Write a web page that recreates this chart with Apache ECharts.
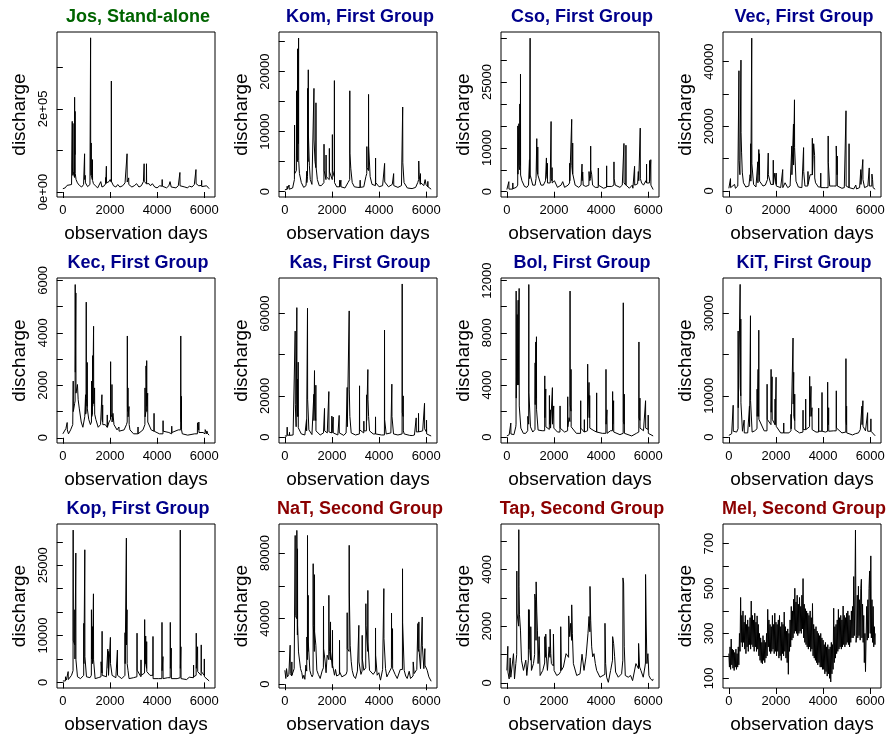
<!DOCTYPE html>
<html>
<head>
<meta charset="utf-8">
<title>discharge</title>
<script src="https://cdn.jsdelivr.net/npm/echarts@6/dist/echarts.min.js"></script>
<style>
  html, body { margin: 0; padding: 0; background: #fff; }
  #main { width: 891px; height: 735px; }
</style>
</head>
<body>
<div id="main"></div>
<script>
// daily discharge as [day, value] points
var jos = [[1,8000],[100,10000],[180,16000],[250,12000],[370,18000],[392,22000],[398,170000],[403,60000],[425,40000],[430,165000],[436,50000],[495,35000],[500,228000],[505,110000],[515,90000],[520,194000],[526,45000],[560,30000],[620,22000],[700,16000],[800,12000],[880,18000],[918,22000],[923,92000],[928,30000],[945,28000],[950,40000],[960,22000],[1050,13000],[1150,18000],[1173,22000],[1178,371000],[1183,60000],[1200,40000],[1205,118000],[1210,40000],[1250,30000],[1255,78000],[1262,28000],[1300,20000],[1380,15000],[1480,10000],[1560,14000],[1610,25000],[1660,12000],[1760,15000],[1815,20000],[1820,35000],[1825,20000],[1842,22000],[1847,62000],[1852,22000],[1960,25000],[2010,30000],[2054,24000],[2059,267000],[2064,25000],[2150,15000],[2250,12000],[2330,18000],[2420,12000],[2540,15000],[2640,22000],[2721,22000],[2726,92000],[2732,24000],[2790,20000],[2795,34000],[2800,18000],[2930,12000],[3030,15000],[3130,20000],[3230,12000],[3330,15000],[3420,25000],[3445,24000],[3450,68000],[3456,25000],[3545,20000],[3550,68000],[3556,20000],[3660,20000],[3720,15000],[3800,20000],[3900,12000],[4000,10000],[4110,15000],[4212,14000],[4217,30000],[4222,14000],[4400,10000],[4500,15000],[4550,25000],[4600,12000],[4800,10000],[4900,15000],[4964,14000],[4969,47000],[4975,15000],[5180,12000],[5280,10000],[5380,14000],[5480,12000],[5580,18000],[5645,17000],[5650,54000],[5656,20000],[5770,15000],[5850,16000],[5886,16000],[5891,28000],[5896,13000],[5960,12000],[6100,15000],[6210,8000]];
var kom = [[1,300],[60,500],[95,400],[100,900],[105,400],[175,400],[180,1100],[186,400],[330,600],[406,2000],[412,11100],[417,3000],[490,3500],[497,16800],[502,6000],[535,5000],[540,23800],[545,9000],[578,8000],[583,25600],[588,5200],[620,3000],[700,1500],[800,700],[900,1000],[925,1200],[930,3400],[935,1500],[961,2500],[966,17200],[971,6000],[990,5000],[995,20300],[1000,9600],[1040,4400],[1080,2000],[1150,1200],[1231,1500],[1236,17200],[1241,8600],[1280,5000],[1316,4000],[1321,14800],[1326,4100],[1380,2000],[1460,1000],[1550,1000],[1658,1500],[1663,7900],[1668,3500],[1745,2000],[1750,6100],[1755,2500],[1885,2000],[1890,7200],[1895,3300],[2013,2000],[2018,9500],[2023,3500],[2098,2500],[2103,18500],[2108,1500],[2200,800],[2325,800],[2330,1900],[2335,800],[2375,800],[2380,1900],[2385,800],[2550,600],[2680,1500],[2752,2000],[2757,16800],[2762,6400],[2800,3800],[2860,1500],[2950,800],[3100,700],[3192,700],[3197,1900],[3202,700],[3350,800],[3440,2500],[3476,3000],[3481,7500],[3486,4000],[3548,3500],[3553,16200],[3558,7500],[3620,2500],[3700,1200],[3846,1000],[3851,5600],[3856,1500],[4000,800],[4150,1000],[4230,1000],[4235,4700],[4240,1600],[4400,800],[4560,1200],[4613,1200],[4618,3000],[4623,1000],[4800,700],[4950,1000],[4997,1200],[5002,14100],[5007,4800],[5060,1500],[5200,600],[5400,500],[5550,700],[5640,1500],[5679,2000],[5684,5100],[5700,2800],[5750,1200],[5755,3000],[5760,1500],[5900,1000],[5949,1000],[5954,2000],[5990,1200],[6065,800],[6070,1700],[6075,800],[6210,400]];
var cso = [[1,500],[80,500],[85,2300],[90,600],[249,600],[254,2000],[260,700],[400,1000],[461,1500],[466,15000],[471,4000],[505,4000],[510,15500],[515,6000],[546,5000],[551,20000],[556,8000],[574,6000],[579,26800],[584,3800],[640,2500],[750,1200],[850,1000],[920,1500],[955,1500],[960,7300],[965,3000],[983,3000],[988,35000],[993,3800],[1100,1500],[1200,1500],[1240,3000],[1266,3000],[1271,12100],[1276,5000],[1308,4000],[1313,10200],[1318,3800],[1450,1500],[1550,1500],[1640,2500],[1675,2500],[1680,7700],[1685,4000],[1715,3000],[1720,6500],[1725,2000],[1840,2000],[1873,2000],[1878,16000],[1883,3000],[1915,2500],[1920,5500],[1925,2000],[2020,2500],[2150,1000],[2300,1500],[2372,2300],[2450,1000],[2600,1500],[2663,2000],[2668,6500],[2673,2500],[2748,2500],[2753,16500],[2758,6000],[2790,4000],[2795,11100],[2800,4000],[2900,1500],[3050,1000],[3150,1500],[3186,1500],[3191,6300],[3196,2500],[3220,4500],[3240,1500],[3350,1200],[3483,1500],[3488,4600],[3520,2500],[3553,3000],[3558,10400],[3563,5000],[3600,4000],[3640,1500],[3750,1000],[3878,1000],[3883,5400],[3888,1500],[4100,800],[4231,1000],[4236,5900],[4241,1200],[4450,1200],[4542,1500],[4547,6800],[4552,3000],[4600,1500],[4800,1000],[4900,1500],[4965,1500],[4970,11000],[4975,2000],[5050,1500],[5055,10600],[5060,1500],[5200,800],[5323,1500],[5350,800],[5417,900],[5422,5800],[5427,1500],[5550,1800],[5575,2000],[5580,4600],[5600,2500],[5657,2500],[5662,14500],[5667,3000],[5720,2000],[5800,1500],[5900,2500],[5925,2000],[5930,6300],[5935,2000],[6052,2000],[6057,7100],[6062,2500],[6105,2500],[6110,7300],[6115,1500],[6210,500]];
var vec = [[1,800],[65,800],[70,3800],[75,1000],[243,2000],[280,800],[380,1500],[424,2000],[429,37200],[434,9400],[470,5000],[509,5000],[514,40500],[519,18000],[540,12000],[570,5800],[620,2500],[720,1200],[850,1500],[895,1500],[900,5000],[924,4000],[929,14600],[934,3000],[967,3000],[972,47300],[977,8400],[1050,2000],[1150,1200],[1224,1500],[1229,9000],[1234,2500],[1267,2500],[1272,12800],[1295,5000],[1300,11500],[1305,3000],[1450,1500],[1550,1800],[1640,3500],[1667,3500],[1672,11700],[1677,5000],[1780,2000],[1881,2000],[1886,9500],[1891,2000],[1945,2000],[1950,5500],[2005,2000],[2010,5500],[2015,1500],[2200,1000],[2281,1000],[2286,6600],[2291,1000],[2386,2500],[2500,1000],[2600,1500],[2667,2000],[2672,13900],[2677,5000],[2738,5000],[2743,20700],[2748,8000],[2781,8000],[2786,28200],[2791,13400],[2850,3000],[2950,1200],[3100,1000],[3167,1500],[3172,13400],[3177,6000],[3230,1500],[3353,1500],[3358,6000],[3363,2000],[3450,5000],[3539,5000],[3544,16300],[3549,5000],[3596,5000],[3601,14600],[3640,11000],[3645,4000],[3680,2500],[3800,1200],[3896,1200],[3901,5500],[3906,1000],[4100,1000],[4211,1000],[4216,17000],[4221,8800],[4280,1500],[4450,1500],[4553,1500],[4558,13900],[4595,5000],[4600,10800],[4605,1500],[4800,800],[4900,1000],[4968,1000],[4973,24800],[4978,1500],[5097,1000],[5102,14600],[5107,1000],[5300,600],[5387,1800],[5420,600],[5550,1000],[5596,1000],[5601,6600],[5606,2000],[5682,2000],[5687,9700],[5692,3500],[5760,1000],[5900,1500],[5954,1500],[5959,7100],[5964,1500],[6068,1500],[6073,5200],[6100,3500],[6120,1000],[6210,500]];
var kec = [[1,150],[70,220],[130,350],[179,300],[184,580],[190,300],[240,150],[330,300],[420,500],[435,500],[440,2160],[445,1000],[500,1300],[520,1400],[525,5840],[530,2500],[548,2500],[553,5520],[558,1700],[620,2030],[650,1450],[700,1100],[780,600],[850,400],[930,800],[959,800],[964,1640],[969,900],[988,1000],[993,5170],[998,1500],[1030,1200],[1035,2870],[1040,1100],[1063,1060],[1100,700],[1170,500],[1214,600],[1219,2160],[1224,800],[1257,900],[1262,3130],[1267,1200],[1300,1200],[1305,4250],[1310,1300],[1347,1900],[1352,900],[1400,700],[1500,400],[1600,500],[1654,500],[1659,1640],[1664,700],[1685,600],[1690,1250],[1695,500],[1800,500],[1881,400],[1886,870],[1891,400],[1960,600],[2023,700],[2028,2900],[2033,900],[2080,800],[2085,2030],[2090,600],[2127,930],[2170,500],[2300,300],[2377,250],[2382,410],[2387,250],[2600,300],[2700,500],[2732,600],[2737,3880],[2742,1200],[2760,1000],[2765,1900],[2770,800],[2808,1190],[2815,500],[2850,300],[3000,150],[3186,150],[3191,410],[3196,150],[3400,300],[3483,500],[3488,1900],[3493,800],[3525,1000],[3530,2740],[3554,1200],[3559,2940],[3564,1000],[3600,1700],[3605,600],[3750,300],[3866,250],[3871,930],[3876,250],[4100,150],[4249,150],[4254,650],[4259,250],[4500,200],[4618,150],[4623,440],[4628,200],[4900,300],[5000,300],[5005,3880],[5010,800],[5028,600],[5033,1580],[5038,300],[5070,150],[5300,100],[5600,150],[5710,150],[5715,570],[5767,300],[5772,600],[5777,200],[5830,180],[5950,200],[6036,150],[6041,310],[6107,150],[6112,260],[6150,150],[6210,100]];
var kas = [[1,500],[94,500],[99,4800],[104,1000],[193,800],[198,2300],[203,800],[350,1000],[434,1500],[439,51500],[444,15900],[480,5000],[504,5000],[509,62900],[514,20000],[533,10000],[538,28200],[543,12000],[561,10000],[566,36400],[571,4500],[700,1500],[850,1000],[915,1000],[920,8500],[925,3000],[957,3000],[962,62600],[967,18400],[1020,3500],[1150,1200],[1226,1500],[1231,20800],[1236,8000],[1254,8000],[1259,32300],[1264,15000],[1311,8000],[1316,25200],[1321,3000],[1500,1000],[1640,2000],[1679,2000],[1684,13900],[1689,3000],[1800,2000],[1863,2000],[1868,22100],[1873,2500],[1990,2000],[1995,10200],[2000,2000],[2047,2000],[2052,9700],[2057,2000],[2250,1000],[2301,1000],[2306,10500],[2311,2000],[2500,800],[2600,2000],[2641,2000],[2646,24100],[2651,5000],[2726,5000],[2731,61300],[2736,22900],[2760,10000],[2816,2000],[3000,1000],[3165,1500],[3170,24900],[3175,3500],[3349,2000],[3354,7700],[3359,3000],[3462,3000],[3467,20500],[3472,8000],[3519,8000],[3524,32800],[3529,18400],[3555,10000],[3595,3000],[3750,1500],[3844,1500],[3849,9800],[3854,1500],[4100,1000],[4226,1000],[4231,52000],[4236,8500],[4301,1500],[4500,2000],[4537,2000],[4542,25700],[4547,10000],[4613,1500],[4800,1000],[4976,1500],[4981,74400],[4986,12000],[5019,10000],[5024,20000],[5029,3000],[5066,1500],[5300,800],[5405,700],[5500,1000],[5570,1500],[5575,9300],[5580,2500],[5669,2500],[5674,11500],[5679,2500],[5850,3000],[5924,3000],[5929,16400],[5934,4000],[6009,2500],[6014,8200],[6019,1500],[6210,500]];
var bol = [[1,100],[100,200],[164,200],[169,1090],[174,250],[300,200],[380,800],[390,1000],[395,11200],[400,3000],[433,3000],[438,9400],[443,4000],[475,4000],[480,10500],[485,4000],[517,4000],[522,11400],[527,2400],[594,700],[700,300],[800,300],[885,500],[890,1600],[927,1000],[932,11700],[937,3400],[1003,800],[1100,400],[1195,600],[1200,5700],[1205,2500],[1223,2500],[1228,7300],[1252,3000],[1257,7700],[1262,2100],[1327,550],[1500,500],[1605,500],[1610,4700],[1615,1500],[1647,1500],[1652,3700],[1657,800],[1802,600],[1807,3200],[1812,1000],[1845,900],[1850,2100],[1855,700],[1929,700],[1934,3800],[1939,1000],[1985,900],[1990,2400],[1995,700],[2150,400],[2254,400],[2259,2400],[2264,700],[2450,400],[2579,500],[2584,3100],[2589,800],[2635,800],[2640,1500],[2678,1200],[2683,11200],[2688,2500],[2720,2000],[2725,5200],[2730,800],[2950,300],[3130,300],[3135,2800],[3140,700],[3285,400],[3290,1350],[3295,400],[3426,500],[3431,5600],[3436,1500],[3483,1500],[3488,4200],[3511,1500],[3516,3200],[3521,700],[3700,500],[3807,400],[3812,3400],[3817,400],[4050,300],[4203,300],[4208,5200],[4213,1000],[4245,900],[4250,2100],[4255,300],[4400,500],[4485,500],[4490,3500],[4495,1000],[4527,1000],[4532,2800],[4537,400],[4800,200],[4937,300],[4942,10300],[4947,1200],[4980,1000],[4985,3300],[4990,300],[5300,100],[5500,300],[5601,400],[5606,7300],[5611,1500],[5643,1300],[5648,3000],[5653,700],[5800,500],[5883,500],[5888,2800],[5893,700],[5995,600],[6000,1700],[6005,300],[6210,100]];
var kit = [[1,400],[120,800],[179,800],[184,7700],[189,1400],[330,1200],[390,2000],[395,25700],[400,7100],[475,7100],[480,37000],[485,12000],[503,10000],[508,28600],[513,8300],[578,1400],[645,1200],[650,4100],[655,1000],[800,1000],[870,1200],[875,7500],[880,2500],[913,2500],[918,29400],[923,8800],[988,1200],[1100,1500],[1195,2000],[1200,11600],[1205,5000],[1237,5000],[1242,16400],[1247,6000],[1266,5000],[1271,25900],[1276,4300],[1500,1500],[1619,1500],[1624,12800],[1629,4300],[1788,3000],[1793,16400],[1798,6000],[1831,6000],[1836,14600],[1841,4300],[1958,3000],[1963,9200],[1968,3000],[2000,3000],[2005,14500],[2010,2600],[2200,1000],[2325,1000],[2330,3400],[2335,1000],[2550,1000],[2635,1500],[2640,5500],[2645,2000],[2720,2000],[2725,24000],[2730,8000],[2748,8000],[2753,15700],[2758,5000],[2791,4000],[2796,10400],[2801,1800],[3000,1000],[3144,1200],[3149,6500],[3154,1800],[3257,1800],[3262,9200],[3267,1800],[3426,2500],[3431,14700],[3436,5000],[3483,5000],[3488,12300],[3493,5000],[3530,7100],[3535,1800],[3700,1200],[3807,1200],[3812,7000],[3817,1400],[3949,1400],[3954,10800],[3959,1400],[4100,1200],[4189,1400],[4194,13300],[4199,4000],[4231,3000],[4236,7100],[4241,1400],[4450,1500],[4556,1500],[4561,11200],[4566,2200],[4800,1000],[4965,1200],[4970,19000],[4975,4000],[4993,3000],[4998,7500],[5003,1000],[5250,500],[5366,800],[5500,1000],[5578,1800],[5643,1800],[5648,7500],[5653,3000],[5685,3000],[5690,8800],[5695,2600],[5800,1500],[5884,1500],[5889,5900],[5894,1400],[6024,1400],[6029,4400],[6034,1400],[6210,300]];
var kop = [[1,300],[108,300],[113,1200],[150,500],[221,500],[226,2300],[231,600],[367,1500],[433,2500],[438,32500],[443,9000],[503,8000],[508,15500],[513,5000],[546,5000],[551,27600],[556,4800],[621,1200],[750,800],[885,1500],[890,12600],[895,4000],[927,4000],[932,28300],[937,5500],[1003,1200],[1150,1000],[1209,1500],[1214,15500],[1219,5000],[1252,5000],[1257,11900],[1262,4000],[1294,4000],[1299,18900],[1304,4800],[1370,800],[1500,1000],[1619,1200],[1624,4400],[1661,2000],[1666,10900],[1671,1500],[1850,1200],[1901,1500],[1906,7100],[1929,3000],[1934,6600],[1939,1500],[2014,1500],[2019,9600],[2024,4000],[2090,1500],[2250,1000],[2311,1000],[2316,6900],[2321,1500],[2500,800],[2635,1500],[2640,10600],[2645,4000],[2692,4000],[2697,30800],[2702,8000],[2720,8000],[2725,15500],[2730,4000],[2767,2500],[2810,800],[3000,1000],[3144,1200],[3149,10500],[3154,2600],[3313,1200],[3318,4800],[3323,1500],[3468,2000],[3473,13400],[3478,5000],[3511,4000],[3516,9900],[3521,4000],[3553,3000],[3558,8700],[3563,2300],[3700,1500],[3821,1500],[3826,9800],[3831,800],[4050,800],[4203,800],[4208,12800],[4213,2500],[4245,2500],[4250,5500],[4255,800],[4450,1000],[4556,1000],[4561,12800],[4566,3000],[4598,3000],[4603,7300],[4608,800],[4850,800],[4979,1000],[4984,32500],[4989,3000],[5007,3000],[5012,7600],[5017,800],[5250,600],[5366,1100],[5450,800],[5544,1000],[5549,3700],[5554,1200],[5657,1500],[5662,10500],[5667,3000],[5714,3000],[5719,7600],[5724,2300],[5869,1500],[5874,8000],[5879,2300],[6000,1500],[6005,5000],[6010,1200],[6210,300]];
var nat = [[1,8500],[42,3500],[71,9500],[113,4500],[170,6000],[221,6000],[226,23800],[231,6500],[292,5000],[297,13600],[302,5500],[396,9500],[434,10000],[439,90700],[444,42000],[504,40000],[509,93800],[514,82600],[533,30000],[538,82600],[543,35900],[580,19700],[608,19700],[665,9500],[720,7000],[760,3500],[806,5500],[850,3000],[886,4000],[891,11600],[929,8000],[934,28800],[957,15000],[962,90700],[967,30000],[985,20000],[990,54200],[995,25800],[1061,8500],[1110,6000],[1160,4500],[1198,6000],[1203,73500],[1208,35900],[1254,20000],[1259,66800],[1264,31900],[1316,23800],[1358,8500],[1420,6000],[1500,3500],[1580,8000],[1636,10000],[1641,47700],[1646,21700],[1712,13600],[1750,7000],[1797,17700],[1863,15000],[1868,54200],[1873,38000],[1896,20000],[1934,15000],[1939,38000],[1944,19700],[2018,10000],[2023,32900],[2028,11600],[2108,5500],[2150,9000],[2200,5000],[2316,6000],[2321,26800],[2326,7500],[2420,4500],[2500,3500],[2600,6000],[2641,8000],[2646,43600],[2651,21700],[2726,20000],[2731,84700],[2736,56200],[2773,23800],[2816,14000],[2858,8500],[2920,5000],[3000,3500],[3080,8000],[3136,8000],[3141,35900],[3146,13600],[3230,6000],[3278,8000],[3283,29800],[3288,15500],[3353,8500],[3433,10000],[3438,49100],[3443,35900],[3518,20000],[3523,57200],[3528,25800],[3594,8500],[3660,9500],[3750,6000],[3844,8000],[3849,34300],[3854,17700],[3919,5500],[3990,7000],[4060,2500],[4150,9000],[4197,9000],[4202,58300],[4207,27800],[4273,9500],[4330,4500],[4400,6500],[4523,10000],[4528,43400],[4533,20000],[4565,15000],[4570,33900],[4575,9500],[4680,6000],[4770,3500],[4900,9000],[4990,9000],[4995,70400],[5000,37600],[5066,8500],[5130,5000],[5193,3500],[5273,3500],[5278,7900],[5335,3500],[5443,5000],[5448,13600],[5490,6500],[5600,9000],[5641,9000],[5646,37000],[5651,21700],[5683,20000],[5688,38000],[5693,21700],[5759,9500],[5825,9500],[5830,41000],[5835,23800],[5900,9500],[5938,9500],[5943,21700],[5948,11600],[6042,8500],[6112,4500],[6210,1800]];
var tap = [[1,440],[37,440],[42,1290],[47,380],[99,140],[141,880],[169,200],[282,1030],[325,140],[381,680],[419,1000],[424,3940],[429,2460],[503,2000],[508,5400],[513,3400],[536,2400],[579,1860],[621,800],[706,440],[805,800],[847,260],[913,800],[918,2580],[930,1200],[946,2580],[974,1150],[1011,800],[1016,1980],[1044,440],[1130,680],[1181,1000],[1186,3130],[1214,2930],[1238,1500],[1243,3560],[1271,2500],[1299,1860],[1327,680],[1365,700],[1370,1630],[1412,260],[1525,440],[1605,700],[1610,1630],[1647,900],[1652,1720],[1680,920],[1723,440],[1793,1270],[1831,900],[1836,1890],[1864,1030],[1892,680],[1972,600],[1977,1720],[2005,440],[2118,260],[2231,320],[2282,400],[2287,1980],[2315,440],[2400,560],[2513,1030],[2621,900],[2626,2360],[2668,1630],[2711,2100],[2748,1500],[2753,2750],[2781,1750],[2824,680],[2965,260],[3106,320],[3191,1010],[3248,1010],[3276,440],[3361,920],[3445,1750],[3488,2340],[3525,1800],[3530,3400],[3558,2210],[3601,1270],[3643,920],[3699,1030],[3756,680],[3812,440],[3953,200],[4160,300],[4165,2100],[4193,680],[4236,200],[4307,20],[4405,440],[4485,800],[4490,1630],[4532,1390],[4575,920],[4617,380],[4730,200],[4871,320],[4923,800],[4928,3700],[4956,3520],[4984,1270],[5027,260],[5153,200],[5252,260],[5337,80],[5479,680],[5587,500],[5592,1390],[5634,560],[5690,440],[5789,200],[5860,560],[5883,700],[5888,3820],[5916,2040],[5945,680],[5987,1030],[6030,260],[6100,140],[6185,80],[6210,140]];
var mel = [[0,210],[25,150],[50,240],[75,140],[100,275],[125,160],[150,230],[175,145],[200,225],[225,135],[250,215],[275,150],[300,230],[325,140],[350,210],[375,150],[400,240],[425,160],[450,300],[475,220],
  [500,460],[525,260],[550,380],[575,240],[600,400],[625,260],[650,350],[675,230],[700,380],[725,210],[750,340],[775,240],[800,360],[825,220],[850,330],[875,250],[900,370],[925,230],[950,444],[975,250],
  [1000,380],[1025,240],[1050,360],[1075,220],[1100,390],[1125,240],[1150,350],[1175,220],[1200,378],[1225,230],[1250,340],[1275,200],[1300,300],[1325,180],[1350,280],[1375,170],[1400,260],[1425,165],[1450,290],[1475,180],
  [1500,270],[1525,170],[1550,260],[1575,190],[1600,300],[1625,200],[1650,407],[1675,240],[1700,360],[1725,220],[1750,340],[1775,210],[1800,330],[1825,220],[1850,380],[1875,230],[1900,340],[1925,210],[1950,390],[1975,220],
  [2000,350],[2025,200],[2050,340],[2075,220],[2100,360],[2125,190],[2150,380],[2175,200],[2200,330],[2225,180],[2250,350],[2275,210],[2300,340],[2325,200],[2350,395],[2375,220],[2400,330],[2425,190],[2450,310],[2475,170],
  [2500,320],[2525,118],[2550,300],[2575,220],[2600,360],[2625,240],[2650,420],[2675,270],[2700,400],[2725,280],[2750,452],[2775,300],[2800,501],[2825,310],[2850,440],[2875,300],[2900,470],[2925,290],[2950,430],[2975,300],
  [3000,460],[3025,310],[3050,420],[3075,300],[3100,470],[3125,320],[3150,544],[3175,280],[3200,430],[3225,260],[3250,410],[3275,250],[3300,400],[3325,240],[3350,390],[3375,230],[3400,380],[3425,240],[3450,400],[3475,220],
  [3500,370],[3525,230],[3550,433],[3575,200],[3600,340],[3625,190],[3650,320],[3675,180],[3700,330],[3725,170],[3750,310],[3775,160],[3800,300],[3825,170],[3850,290],[3875,150],[3900,300],[3925,150],[3950,280],[3975,140],
  [4000,270],[4025,140],[4050,250],[4075,120],[4100,260],[4125,130],[4150,240],[4175,110],[4200,250],[4225,120],[4250,230],[4275,100],[4300,240],[4325,84],[4350,260],[4375,120],[4400,250],[4425,140],[4450,412],[4475,170],
  [4500,330],[4525,190],[4550,340],[4575,210],[4600,360],[4625,220],[4650,407],[4675,230],[4700,370],[4725,240],[4750,380],[4775,230],[4800,360],[4825,240],[4850,422],[4875,250],[4900,380],[4925,240],[4950,370],[4975,250],
  [5000,390],[5025,260],[5050,400],[5075,250],[5100,380],[5125,240],[5150,360],[5175,260],[5200,400],[5225,280],[5250,420],[5275,280],[5300,553],[5325,290],[5350,470],[5375,760],[5400,260],[5425,290],[5450,470],[5475,280],
  [5500,510],[5525,290],[5550,450],[5575,270],[5600,500],[5625,541],[5650,280],[5675,430],[5700,260],[5725,380],[5750,170],[5775,300],[5800,130],[5825,280],[5850,420],[5875,270],[5900,450],[5925,280],[5950,500],[5975,578],
  [6000,300],[6025,645],[6050,280],[6075,450],[6100,260],[6125,420],[6150,240],[6175,330],[6200,250],[6210,300]];

// axis ticks and the labels R kept
var xTicks = [0, 2000, 4000, 6000];
var josTicks = [0, 100000, 200000, 300000], josLabels = [0, 200000], josLabelText = ['0e+00', '2e+05'];
var komTicks = [0, 5000, 10000, 15000, 20000, 25000], komLabels = [0, 10000, 20000];
var csoTicks = [0, 5000, 10000, 15000, 20000, 25000, 30000, 35000], csoLabels = [0, 10000, 25000];
var vecTicks = [0, 10000, 20000, 30000, 40000], vecLabels = [0, 20000, 40000];
var kecTicks = [0, 1000, 2000, 3000, 4000, 5000, 6000], kecLabels = [0, 2000, 4000, 6000];
var kasTicks = [0, 20000, 40000, 60000], kasLabels = [0, 20000, 60000];
var bolTicks = [0, 2000, 4000, 6000, 8000, 10000, 12000], bolLabels = [0, 4000, 8000, 12000];
var kitTicks = [0, 10000, 20000, 30000], kitLabels = [0, 10000, 30000];
var kopTicks = [0, 5000, 10000, 15000, 20000, 25000, 30000], kopLabels = [0, 10000, 25000];
var natTicks = [0, 20000, 40000, 60000, 80000], natLabels = [0, 40000, 80000];
var tapTicks = [0, 1000, 2000, 3000, 4000, 5000], tapLabels = [0, 2000, 4000];
var melTicks = [100, 200, 300, 400, 500, 600, 700], melLabels = [100, 300, 500, 700];

var panels = [
  { title: 'Jos, Stand-alone',   color: '#006400', data: jos, ymin: -12000, ymax: 385000, ticks: josTicks, labels: josLabels, text: josLabelText },
  { title: 'Kom, First Group',   color: '#00008B', data: kom, ymin: -900,   ymax: 26600,  ticks: komTicks, labels: komLabels },
  { title: 'Cso, First Group',   color: '#00008B', data: cso, ymin: -1200,  ymax: 36400,  ticks: csoTicks, labels: csoLabels },
  { title: 'Vec, First Group',   color: '#00008B', data: vec, ymin: -1900,  ymax: 49200,  ticks: vecTicks, labels: vecLabels },
  { title: 'Kec, First Group',   color: '#00008B', data: kec, ymin: -200,   ymax: 6090,   ticks: kecTicks, labels: kecLabels },
  { title: 'Kas, First Group',   color: '#00008B', data: kas, ymin: -2900,  ymax: 77300,  ticks: kasTicks, labels: kasLabels },
  { title: 'Bol, First Group',   color: '#00008B', data: bol, ymin: -440,   ymax: 12200,  ticks: bolTicks, labels: bolLabels },
  { title: 'KiT, First Group',   color: '#00008B', data: kit, ymin: -1450,  ymax: 38550,  ticks: kitTicks, labels: kitLabels },
  { title: 'Kop, First Group',   color: '#00008B', data: kop, ymin: -1200,  ymax: 33800,  ticks: kopTicks, labels: kopLabels },
  { title: 'NaT, Second Group',  color: '#8B0000', data: nat, ymin: -2300,  ymax: 97700,  ticks: natTicks, labels: natLabels },
  { title: 'Tap, Second Group',  color: '#8B0000', data: tap, ymin: -180,   ymax: 5600,   ticks: tapTicks, labels: tapLabels },
  { title: 'Mel, Second Group',  color: '#8B0000', data: mel, ymin: 57,     ymax: 787,    ticks: melTicks, labels: melLabels }
];

var FONT = '"Liberation Sans", Arial, sans-serif';
var colLeft = [57, 279, 501, 723];
var rowTop = [32, 278, 524];
var boxW = 158, boxH = 165;

var titles = [], grids = [], xAxes = [], yAxes = [], series = [];
panels.forEach(function (p, i) {
  var left = colLeft[i % 4], top = rowTop[Math.floor(i / 4)];
  titles.push({
    text: p.title, left: left + boxW / 2 - 3, top: top - 29, textAlign: 'center',
    textStyle: { fontFamily: FONT, fontSize: 18, fontWeight: 'bold', color: p.color }
  });
  grids.push({
    left: left, top: top, width: boxW, height: boxH,
    show: true, borderColor: '#000', borderWidth: 1, backgroundColor: 'transparent'
  });
  xAxes.push({
    gridIndex: i, type: 'value', min: -248, max: 6458,
    splitLine: { show: false }, axisLine: { show: false },
    axisTick: { show: true, length: 6, customValues: xTicks, lineStyle: { color: '#000' } },
    axisLabel: {
      customValues: xTicks, margin: 7, fontFamily: FONT, fontSize: 13, color: '#000',
      formatter: function (v) { return String(v); }
    },
    name: 'observation days', nameLocation: 'middle', nameGap: 27,
    nameTextStyle: { fontFamily: FONT, fontSize: 19, color: '#000' }
  });
  yAxes.push({
    gridIndex: i, type: 'value', min: p.ymin, max: p.ymax,
    splitLine: { show: false }, axisLine: { show: false },
    axisTick: { show: true, length: 6, customValues: p.ticks, lineStyle: { color: '#000' } },
    axisLabel: {
      customValues: p.labels, rotate: 90, margin: 7, fontFamily: FONT, fontSize: 13, color: '#000',
      formatter: function (v) {
        if (p.text) return p.text[p.labels.indexOf(v)];
        return String(v);
      }
    },
    name: 'discharge', nameLocation: 'middle', nameGap: 28, nameRotate: 90,
    nameTextStyle: { fontFamily: FONT, fontSize: 19, color: '#000' }
  });
  series.push({
    type: 'line', xAxisIndex: i, yAxisIndex: i, data: p.data,
    showSymbol: false, symbol: 'none', clip: true,
    lineStyle: { color: '#000', width: 1 }
  });
});

var myChart = echarts.init(document.getElementById('main'));
myChart.setOption({
  animation: false,
  backgroundColor: '#fff',
  title: titles,
  grid: grids,
  xAxis: xAxes,
  yAxis: yAxes,
  series: series
});
</script>
</body>
</html>
